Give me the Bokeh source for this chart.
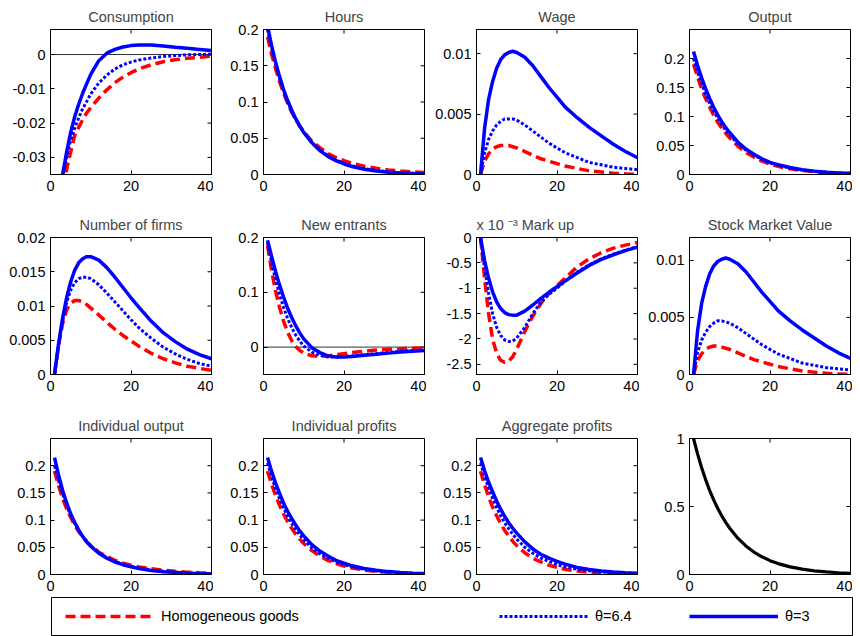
import math
from bokeh.plotting import figure
from bokeh.models import Range1d, FixedTicker, Span, Legend, LegendItem
from bokeh.layouts import gridplot, column
from bokeh.embed import file_html
from bokeh.resources import INLINE

FONT = "Liberation Sans"
FS = "14.5px"

# ---------------- data ----------------
periods = [1, 2, 3, 4, 5, 6, 7, 8, 9, 10, 12, 14, 16, 18, 20, 22, 25, 28, 31, 34, 37, 40]
x_ticks = [0, 20, 40]
x_tick_labels = ["0", "20", "40"]

series_names = ["Homogeneous goods", "θ=6.4", "θ=3"]

cons_homog = [-0.056, -0.047, -0.039, -0.0335, -0.0285, -0.0237, -0.0213, -0.019, -0.017, -0.0155, -0.0127, -0.0103, -0.0082, -0.0066, -0.0053, -0.0042, -0.003, -0.0021, -0.0015, -0.0011, -0.0008, -0.0005]
cons_t64 = [-0.055, -0.045, -0.036, -0.030, -0.025, -0.0215, -0.0185, -0.0158, -0.0137, -0.0115, -0.0083, -0.006, -0.0042, -0.003, -0.0022, -0.0016, -0.001, -0.0006, -0.0003, -0.0001, 0.0, 0.0001]
cons_t3 = [-0.05, -0.042, -0.035, -0.0285, -0.0228, -0.0182, -0.0145, -0.0113, -0.0085, -0.0058, -0.0018, 0.0004, 0.0015, 0.0022, 0.0026, 0.0028, 0.0028, 0.0025, 0.0021, 0.0018, 0.0015, 0.0012]

hours_homog = [0.19, 0.166, 0.146, 0.128, 0.112, 0.098, 0.086, 0.076, 0.067, 0.059, 0.046, 0.037, 0.029, 0.0235, 0.019, 0.0155, 0.0115, 0.0085, 0.0063, 0.0047, 0.0035, 0.0026]
hours_t64 = [0.200, 0.174, 0.152, 0.132, 0.115, 0.1, 0.087, 0.076, 0.066, 0.058, 0.044, 0.034, 0.026, 0.020, 0.0155, 0.012, 0.008, 0.0055, 0.0037, 0.0025, 0.0017, 0.0011]
hours_t3 = [0.205, 0.178, 0.155, 0.135, 0.117, 0.102, 0.089, 0.077, 0.067, 0.058, 0.044, 0.033, 0.025, 0.019, 0.0145, 0.011, 0.0072, 0.0048, 0.0032, 0.0021, 0.0014, 0.0009]

wage_homog = [0.0, 0.0011, 0.0017, 0.0021, 0.0023, 0.0024, 0.0024, 0.0024, 0.0023, 0.0022, 0.0019, 0.0016, 0.0013, 0.0011, 0.0009, 0.0007, 0.0005, 0.0003, 0.0002, 0.0001, 0.00005, 0.0]
wage_t64 = [0.0, 0.0018, 0.0029, 0.0036, 0.0041, 0.0044, 0.0046, 0.0046, 0.0046, 0.0045, 0.0041, 0.0036, 0.0031, 0.0026, 0.0022, 0.0018, 0.0014, 0.001, 0.0008, 0.0006, 0.0005, 0.0004]
wage_t3 = [0.0, 0.0038, 0.0062, 0.0077, 0.0088, 0.0095, 0.0099, 0.0101, 0.0102, 0.0101, 0.0097, 0.009, 0.0081, 0.0072, 0.0064, 0.0056, 0.0047, 0.0039, 0.0032, 0.0025, 0.0019, 0.0014]

output_homog = [0.19, 0.168, 0.148, 0.131, 0.116, 0.102, 0.09, 0.08, 0.071, 0.063, 0.049, 0.038, 0.03, 0.023, 0.018, 0.014, 0.0098, 0.0068, 0.0048, 0.0033, 0.0023, 0.0016]
output_t64 = [0.2, 0.177, 0.157, 0.139, 0.123, 0.109, 0.097, 0.086, 0.076, 0.068, 0.053, 0.042, 0.033, 0.026, 0.02, 0.016, 0.011, 0.0078, 0.0055, 0.0038, 0.0027, 0.0019]
output_t3 = [0.212, 0.188, 0.167, 0.148, 0.131, 0.116, 0.103, 0.091, 0.081, 0.072, 0.056, 0.044, 0.035, 0.027, 0.021, 0.017, 0.012, 0.0083, 0.0058, 0.004, 0.0028, 0.002]

firms_homog = [0.0, 0.0042, 0.0074, 0.0094, 0.0104, 0.0108, 0.0108, 0.0106, 0.0102, 0.0097, 0.0087, 0.0076, 0.0066, 0.0057, 0.0049, 0.0041, 0.0031, 0.0023, 0.0017, 0.0012, 0.0009, 0.0006]
firms_t64 = [0.0, 0.0043, 0.0078, 0.0105, 0.0123, 0.0134, 0.014, 0.0142, 0.0142, 0.014, 0.0131, 0.0119, 0.0106, 0.0093, 0.008, 0.0068, 0.0053, 0.004, 0.003, 0.0022, 0.0016, 0.0012]
firms_t3 = [0.0, 0.0045, 0.0082, 0.0112, 0.0135, 0.0152, 0.0163, 0.0169, 0.0172, 0.0172, 0.0167, 0.0156, 0.0142, 0.0127, 0.0112, 0.0098, 0.0078, 0.0061, 0.0048, 0.0037, 0.0029, 0.0023]

entr_homog = [0.185, 0.14, 0.102, 0.072, 0.047, 0.027, 0.012, 0.001, -0.006, -0.011, -0.016, -0.017, -0.016, -0.014, -0.012, -0.01, -0.0075, -0.0055, -0.004, -0.003, -0.0022, -0.0015]
entr_t64 = [0.19, 0.155, 0.123, 0.095, 0.072, 0.052, 0.036, 0.022, 0.011, 0.002, -0.009, -0.015, -0.018, -0.018, -0.017, -0.016, -0.014, -0.012, -0.0095, -0.0078, -0.0063, -0.005]
entr_t3 = [0.195, 0.166, 0.138, 0.113, 0.091, 0.071, 0.054, 0.039, 0.026, 0.015, -0.001, -0.01, -0.016, -0.018, -0.018, -0.017, -0.015, -0.013, -0.011, -0.009, -0.0075, -0.006]

# mark-up, in units of 10^-3
markup_homog = [0.0, -0.8, -1.5, -2.0, -2.28, -2.42, -2.46, -2.44, -2.35, -2.2, -1.85, -1.55, -1.3, -1.1, -0.95, -0.8, -0.58, -0.42, -0.3, -0.21, -0.15, -0.1]
markup_t64 = [0.0, -0.6, -1.1, -1.5, -1.77, -1.93, -2.02, -2.05, -2.04, -1.98, -1.77, -1.5, -1.27, -1.12, -1.0, -0.86, -0.68, -0.54, -0.42, -0.33, -0.25, -0.18]
markup_t3 = [0.0, -0.45, -0.8, -1.07, -1.27, -1.4, -1.48, -1.52, -1.53, -1.53, -1.45, -1.33, -1.2, -1.08, -0.97, -0.86, -0.7, -0.55, -0.43, -0.34, -0.26, -0.19]

stock_homog = [0.0, 0.0012, 0.0018, 0.0022, 0.0024, 0.0025, 0.0025, 0.0024, 0.0023, 0.0022, 0.0019, 0.0016, 0.0013, 0.0011, 0.0009, 0.0007, 0.0005, 0.0003, 0.0002, 0.0001, 0.00005, 0.0]
stock_t64 = [0.0, 0.0019, 0.003, 0.0037, 0.0042, 0.0045, 0.0047, 0.0047, 0.0046, 0.0045, 0.0041, 0.0036, 0.0031, 0.0026, 0.0022, 0.0018, 0.0014, 0.001, 0.0008, 0.0006, 0.0005, 0.0004]
stock_t3 = [0.0, 0.0038, 0.0062, 0.0077, 0.0088, 0.0095, 0.0099, 0.0101, 0.0102, 0.0101, 0.0097, 0.009, 0.0081, 0.0072, 0.0064, 0.0056, 0.0047, 0.0039, 0.0032, 0.0025, 0.0019, 0.0014]

indout_homog = [0.19, 0.163, 0.14, 0.121, 0.105, 0.091, 0.079, 0.069, 0.06, 0.053, 0.041, 0.033, 0.026, 0.021, 0.017, 0.014, 0.0105, 0.0078, 0.0058, 0.0043, 0.0032, 0.0024]
indout_t64 = [0.2, 0.172, 0.148, 0.127, 0.109, 0.094, 0.081, 0.07, 0.061, 0.053, 0.04, 0.031, 0.024, 0.019, 0.015, 0.012, 0.0085, 0.006, 0.0043, 0.003, 0.0021, 0.0015]
indout_t3 = [0.215, 0.183, 0.155, 0.132, 0.112, 0.096, 0.082, 0.07, 0.06, 0.052, 0.039, 0.03, 0.023, 0.018, 0.014, 0.011, 0.0075, 0.0052, 0.0036, 0.0025, 0.0017, 0.0012]

indprof_homog = [0.19, 0.166, 0.145, 0.127, 0.111, 0.097, 0.085, 0.074, 0.065, 0.057, 0.044, 0.034, 0.026, 0.02, 0.0155, 0.012, 0.0082, 0.0056, 0.0039, 0.0027, 0.0018, 0.0013]
indprof_t64 = [0.205, 0.18, 0.158, 0.139, 0.122, 0.107, 0.094, 0.083, 0.073, 0.064, 0.049, 0.038, 0.03, 0.023, 0.018, 0.014, 0.0095, 0.0066, 0.0046, 0.0032, 0.0022, 0.0015]
indprof_t3 = [0.215, 0.19, 0.168, 0.149, 0.131, 0.116, 0.103, 0.091, 0.08, 0.071, 0.055, 0.043, 0.034, 0.026, 0.021, 0.016, 0.011, 0.0077, 0.0053, 0.0037, 0.0025, 0.0017]

aggprof_homog = [0.19, 0.165, 0.143, 0.124, 0.108, 0.094, 0.081, 0.071, 0.061, 0.053, 0.04, 0.03, 0.023, 0.017, 0.013, 0.0097, 0.0063, 0.0041, 0.0027, 0.0018, 0.0012, 0.0008]
aggprof_t64 = [0.205, 0.181, 0.159, 0.14, 0.123, 0.108, 0.095, 0.084, 0.074, 0.065, 0.05, 0.039, 0.03, 0.024, 0.018, 0.014, 0.0098, 0.0068, 0.0047, 0.0033, 0.0023, 0.0016]
aggprof_t3 = [0.215, 0.191, 0.17, 0.152, 0.135, 0.12, 0.107, 0.095, 0.085, 0.076, 0.06, 0.047, 0.037, 0.03, 0.024, 0.019, 0.013, 0.0093, 0.0066, 0.0047, 0.0033, 0.0024]

shock = [1.0, 0.887, 0.787, 0.698, 0.619, 0.549, 0.487, 0.432, 0.383, 0.34, 0.267, 0.21, 0.165, 0.13, 0.102, 0.08, 0.056, 0.039, 0.027, 0.019, 0.013, 0.009]

# y tick values and labels per panel
cons_ticks = [-0.03, -0.02, -0.01, 0]
cons_labels = ["-0.03", "-0.02", "-0.01", "0"]
prop_ticks = [0, 0.05, 0.1, 0.15, 0.2]
prop_labels = ["0", "0.05", "0.1", "0.15", "0.2"]
small_ticks = [0, 0.005, 0.01]
small_labels = ["0", "0.005", "0.01"]
firms_ticks = [0, 0.005, 0.01, 0.015, 0.02]
firms_labels = ["0", "0.005", "0.01", "0.015", "0.02"]
entr_ticks = [0, 0.1, 0.2]
entr_labels = ["0", "0.1", "0.2"]
markup_ticks = [-2.5, -2, -1.5, -1, -0.5, 0]
markup_labels = ["-2.5", "-2", "-1.5", "-1", "-0.5", "0"]
shock_ticks = [0, 0.5, 1]
shock_labels = ["0", "0.5", "1"]

panels = [
    ("Consumption", (cons_homog, cons_t64, cons_t3), (-0.035, 0.0073), cons_ticks, cons_labels, True),
    ("Hours", (hours_homog, hours_t64, hours_t3), (0, 0.2), prop_ticks, prop_labels, False),
    ("Wage", (wage_homog, wage_t64, wage_t3), (0, 0.012), small_ticks, small_labels, False),
    ("Output", (output_homog, output_t64, output_t3), (0, 0.25), prop_ticks, prop_labels, False),
    ("Number of firms", (firms_homog, firms_t64, firms_t3), (0, 0.02), firms_ticks, firms_labels, False),
    ("New entrants", (entr_homog, entr_t64, entr_t3), (-0.05, 0.2), entr_ticks, entr_labels, True),
    ("x 10 ⁻³     Mark up", (markup_homog, markup_t64, markup_t3), (-2.7, 0), markup_ticks, markup_labels, False),
    ("Stock Market Value", (stock_homog, stock_t64, stock_t3), (0, 0.012), small_ticks, small_labels, False),
    ("Individual output", (indout_homog, indout_t64, indout_t3), (0, 0.25), prop_ticks, prop_labels, False),
    ("Individual profits", (indprof_homog, indprof_t64, indprof_t3), (0, 0.25), prop_ticks, prop_labels, False),
    ("Aggregate profits", (aggprof_homog, aggprof_t64, aggprof_t3), (0, 0.25), prop_ticks, prop_labels, False),
    ("", (shock,), (0, 1), shock_ticks, shock_labels, False),
]

# ---------------- styles ----------------
ROWS = [(29, 145, 26), (37, 137, 26), (38, 136, 22)]
STYLES = [
    dict(line_color="#ff0000", line_width=3.5, line_dash="10 5"),
    dict(line_color="#0000ff", line_width=3, line_dash="3 2"),
    dict(line_color="#0000ff", line_width=3.5),
]
BLACK = dict(line_color="black", line_width=3.2)


def style_axis(ax, ticks, labels, standoff):
    ax.ticker = FixedTicker(ticks=ticks)
    ax.major_label_overrides = {t: l for t, l in zip(ticks, labels)}
    ax.major_tick_in = 4
    ax.major_tick_out = 0
    ax.minor_tick_line_color = None
    ax.axis_line_color = "black"
    ax.major_tick_line_color = "black"
    ax.major_label_text_font = FONT
    ax.major_label_text_color = "black"
    ax.major_label_text_font_size = FS
    ax.major_label_standoff = standoff


figs = []
for i, (title, series, (ylo, yhi), yt, yl, zero) in enumerate(panels):
    top, fh, bottom = ROWS[i // 4]
    p = figure(frame_width=161, frame_height=fh, min_border_left=50, min_border_right=2,
               min_border_top=top, min_border_bottom=bottom,
               x_range=Range1d(0, 40), y_range=Range1d(ylo, yhi),
               output_backend="svg", toolbar_location=None, tools="")
    p.title.text = title
    p.title.align = "left" if title.startswith("x 10") else "center"
    p.title.text_font = FONT
    p.title.text_font_size = FS
    p.title.text_font_style = "normal"
    p.title.standoff = 9
    p.grid.visible = False
    p.outline_line_color = "black"
    p.outline_line_alpha = 1
    p.outline_line_width = 1
    p.background_fill_color = "white"
    p.border_fill_color = "white"
    style_axis(p.xaxis[0], x_ticks, x_tick_labels, 6)
    style_axis(p.yaxis[0], yt, yl, 5)
    # inward tick marks on the top and right edges of the box
    p.ray(x=x_ticks, y=[yhi] * len(x_ticks), length=4, length_units="screen",
          angle=-math.pi / 2, line_color="black", line_width=1)
    p.ray(x=[40] * len(yt), y=yt, length=4, length_units="screen",
          angle=math.pi, line_color="black", line_width=1)
    if zero:
        p.add_layout(Span(location=0, dimension="width", line_color="#333333",
                          line_width=1, level="underlay"))
    if len(series) == 1:
        p.line(periods, series[0], **BLACK)
    else:
        for s, st in zip(series, STYLES):
            p.line(periods, s, **st)
    figs.append(p)

# ---------------- legend box ----------------
leg = figure(frame_width=801, frame_height=38, min_border_left=51, min_border_right=8,
             min_border_top=1, min_border_bottom=1, x_axis_type=None, y_axis_type=None,
             x_range=Range1d(0, 1), y_range=Range1d(0, 1),
             output_backend="svg", toolbar_location=None, tools="")
leg.grid.visible = False
leg.outline_line_color = "black"
leg.outline_line_alpha = 1
leg.border_fill_color = "white"
leg_x = [14, 448, 638]
for name, st, lx in zip(series_names, STYLES, leg_x):
    r = leg.line(x=[-5], y=[-5], **st)
    lg = Legend(items=[LegendItem(label=name, renderers=[r])], location=(lx, 9),
                glyph_width=89, glyph_height=20, label_standoff=7, padding=0, margin=0,
                border_line_color=None, background_fill_alpha=0,
                label_text_font=FONT, label_text_font_size=FS, label_text_color="black")
    leg.add_layout(lg)

grid = gridplot([figs[0:4], figs[4:8], figs[8:12]], toolbar_location=None)
layout = column(grid, leg)

open("out.html", "w").write(file_html(layout, INLINE))
